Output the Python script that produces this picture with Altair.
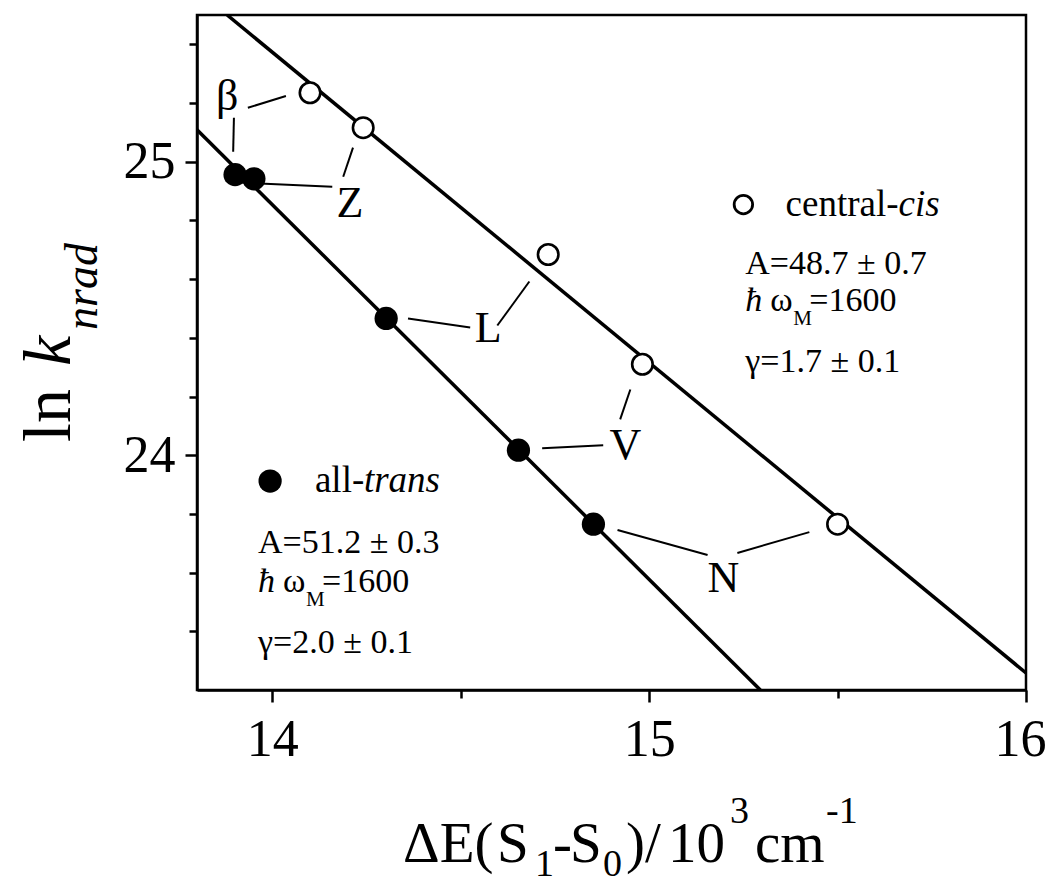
import altair as alt
import pandas as pd

# ---- data ----
cis_x = [14.100, 14.241, 14.732, 14.982, 15.500]
cis_y = [25.235, 25.116, 24.684, 24.310, 23.765]
trans_x = [13.901, 13.951, 14.302, 14.653, 14.852]
trans_y = [24.956, 24.942, 24.466, 24.017, 23.765]

fit_cis_x = [13.880, 16.0]
fit_cis_y = [25.5, 23.258]
fit_trans_x = [13.8, 15.295]
fit_trans_y = [25.109, 23.2]

labels = ["β", "Z", "L", "V", "N"]
label_x = [13.880, 14.206, 14.573, 14.937, 15.197]
label_y = [25.221, 24.857, 24.429, 24.031, 23.578]

seg_x1 = [13.935, 13.898, 14.214, 13.915, 14.360, 14.597, 14.716, 14.923, 14.916, 15.234]
seg_y1 = [25.184, 25.150, 25.048, 24.929, 24.466, 24.442, 24.024, 24.122, 23.745, 23.667]
seg_x2 = [14.036, 13.896, 14.188, 14.159, 14.525, 14.682, 14.878, 14.950, 15.155, 15.425]
seg_y2 = [25.224, 25.034, 24.949, 24.915, 24.435, 24.592, 24.034, 24.224, 23.660, 23.738]

# legend blocks: [central-cis, all-trans]
leg_sym_x = [15.250, 13.994]
leg_sym_y = [24.854, 23.912]
leg_head_x = [15.362, 14.113]
leg_head_y = [24.854, 23.912]
leg_head_a = ["central-", "all-"]
leg_head_b = ["cis", "trans"]
leg_row_x = [15.255, 13.962]
row_A_y = [24.653, 23.701]
row_w_y = [24.527, 23.568]
row_g_y = [24.316, 23.361]
row_A = ["A=48.7 ± 0.7", "A=51.2 ± 0.3"]
row_w = ["=1600", "=1600"]
row_g = ["γ=1.7 ± 0.1", "γ=2.0 ± 0.1"]

x_ticks = [14, 14.5, 15, 15.5, 16]
y_ticks = [23.4, 23.6, 23.8, 24, 24.2, 24.4, 24.6, 24.8, 25, 25.2, 25.4]

FONT = "Liberation Serif"
W, H = 829, 675

xs = alt.Scale(domain=[13.8, 16.0], nice=False, zero=False)
ys = alt.Scale(domain=[23.2, 25.5], nice=False, zero=False)

major = "abs(datum.value - round(datum.value)) < 1e-6"
lab_expr = f"{major} ? format(datum.value, 'd') : ''"
x_axis = alt.Axis(values=x_ticks, title=None, grid=False, labelExpr=lab_expr,
                  tickSize={"condition": {"test": major, "value": 12}, "value": 8},
                  labelOffset={"condition": {"test": "datum.value >= 16", "value": -6},
                               "value": 0},
                  labelFont=FONT, labelFontSize=52, labelColor="black", labelPadding=12,
                  tickColor="black", tickWidth=2.5, domainColor="black", domainWidth=2.5,
                  labelFlush=False, labelOverlap=False)
y_axis = alt.Axis(values=y_ticks, title=None, grid=False, labelExpr=lab_expr,
                  tickSize={"condition": {"test": major, "value": 12}, "value": 8},
                  labelFont=FONT, labelFontSize=52, labelColor="black", labelPadding=10,
                  tickColor="black", tickWidth=2.5, domainColor="black", domainWidth=2.5,
                  labelFlush=False, labelOverlap=False)

fit_df = pd.DataFrame({
    "x": fit_cis_x + fit_trans_x,
    "y": fit_cis_y + fit_trans_y,
    "s": ["cis"] * len(fit_cis_x) + ["trans"] * len(fit_trans_x),
})
cis_df = pd.DataFrame({"x": cis_x, "y": cis_y})
trans_df = pd.DataFrame({"x": trans_x, "y": trans_y})
lab_df = pd.DataFrame({"x": label_x, "y": label_y, "t": labels})
seg_df = pd.DataFrame({"x": seg_x1, "y": seg_y1, "x2": seg_x2, "y2": seg_y2})
leg_df = pd.DataFrame({
    "sx": leg_sym_x, "sy": leg_sym_y, "hx": leg_head_x, "hy": leg_head_y,
    "ha": leg_head_a, "hb": leg_head_b, "rx": leg_row_x,
    "ay": row_A_y, "wy": row_w_y, "gy": row_g_y,
    "A": row_A, "w": row_w, "g": row_g, "kind": ["cis", "trans"],
})

base_x = alt.X("x:Q", scale=xs, axis=x_axis)
base_y = alt.Y("y:Q", scale=ys, axis=y_axis)

fits = alt.Chart(fit_df).mark_line(color="black", strokeWidth=3.5, clip=True).encode(
    x=base_x, y=base_y, detail="s:N")
segs = alt.Chart(seg_df).mark_rule(color="black", strokeWidth=2).encode(
    x=alt.X("x:Q", scale=xs), y=alt.Y("y:Q", scale=ys), x2="x2:Q", y2="y2:Q")
cis_pts = alt.Chart(cis_df).mark_circle(size=420, fill="white", stroke="black",
                                        strokeWidth=2.6, opacity=1).encode(
    x=alt.X("x:Q", scale=xs), y=alt.Y("y:Q", scale=ys))
trans_pts = alt.Chart(trans_df).mark_circle(size=540, color="black", opacity=1).encode(
    x=alt.X("x:Q", scale=xs), y=alt.Y("y:Q", scale=ys))
labs = alt.Chart(lab_df).mark_text(font=FONT, fontSize=44, align="center",
                                   baseline="middle", color="black").encode(
    x=alt.X("x:Q", scale=xs), y=alt.Y("y:Q", scale=ys), text="t:N")

LFS = 34
HFS = 37
legc = alt.Chart(leg_df)
leg_open = legc.transform_filter("datum.kind == 'cis'").mark_circle(
    size=340, fill="white", stroke="black", strokeWidth=2.8, opacity=1).encode(
    x=alt.X("sx:Q", scale=xs), y=alt.Y("sy:Q", scale=ys))
leg_fill = legc.transform_filter("datum.kind == 'trans'").mark_circle(
    size=540, color="black", opacity=1).encode(
    x=alt.X("sx:Q", scale=xs), y=alt.Y("sy:Q", scale=ys))

def ltext(xf, yf, tf, dx=0, dy=0, size=LFS, style="normal", filt=None):
    c = legc
    if filt:
        c = c.transform_filter(filt)
    return c.mark_text(font=FONT, fontSize=size, fontStyle=style, align="left",
                       baseline="middle", color="black", dx=dx, dy=dy).encode(
        x=alt.X(f"{xf}:Q", scale=xs), y=alt.Y(f"{yf}:Q", scale=ys), text=f"{tf}:N")

head_a = ltext("hx", "hy", "ha", size=HFS)
head_b_cis = ltext("hx", "hy", "hb", dx=113, size=HFS, style="italic",
                   filt="datum.kind == 'cis'")
head_b_tr = ltext("hx", "hy", "hb", dx=49, size=HFS, style="italic",
                  filt="datum.kind == 'trans'")
rowA = ltext("rx", "ay", "A")
rowG = ltext("rx", "gy", "g")
rowW = ltext("rx", "wy", "w", dx=64)
hbar = legc.mark_text(font=FONT, fontSize=LFS, fontStyle="italic", align="left",
                      baseline="middle", color="black", text="ħ").encode(
    x=alt.X("rx:Q", scale=xs), y=alt.Y("wy:Q", scale=ys))
omega = legc.mark_text(font=FONT, fontSize=LFS, align="left", baseline="middle",
                       color="black", text="ω", dx=25).encode(
    x=alt.X("rx:Q", scale=xs), y=alt.Y("wy:Q", scale=ys))
subM = legc.mark_text(font=FONT, fontSize=21, align="left", baseline="middle",
                      color="black", text="M", dx=48, dy=18).encode(
    x=alt.X("rx:Q", scale=xs), y=alt.Y("wy:Q", scale=ys))

one = pd.DataFrame({"k": [0]})

def ptext(t, px, py, size, style="normal", angle=0):
    # px, py are page pixel positions; plot origin at (197, 15)
    return alt.Chart(one).mark_text(text=t, font=FONT, fontSize=size, fontStyle=style,
                                    align="left", baseline="alphabetic", angle=angle,
                                    color="black").encode(
        x=alt.value(px - 197), y=alt.value(py - 15))

MT, ST = 57, 38
BL, SB, SP = 862, 876, 823
xt = [
    ptext("ΔE(", 403, BL, MT),
    ptext("S", 497, BL, MT),
    ptext("1", 535, SB, ST),
    ptext("-", 553, BL, MT),
    ptext("S", 570, BL, MT),
    ptext("0", 603, SB, ST),
    ptext(")/", 626, BL, MT),
    ptext("10", 668, BL, MT),
    ptext("3", 730, SP, ST),
    ptext("cm", 755, BL, MT),
    ptext("-1", 826, SP, ST),
]
yt = [
    ptext("ln", 70, 442, 68, angle=270),
    ptext("k", 70, 366, 68, style="italic", angle=270),
    ptext("nrad", 97, 330, 46, style="italic", angle=270),
]

chart = alt.layer(fits, segs, cis_pts, trans_pts, labs, leg_open, leg_fill,
                  head_a, head_b_cis, head_b_tr, rowA, rowG, rowW, hbar, omega, subM,
                  *xt, *yt).properties(
    width=W, height=H,
    autosize=alt.AutoSizeParams(type="none"),
    padding={"left": 189, "top": 7, "right": 21, "bottom": 193},
    background="white",
).configure_view(stroke="black", strokeWidth=2.5)

chart.save("out.html", embed_options={"renderer": "svg", "actions": False})
